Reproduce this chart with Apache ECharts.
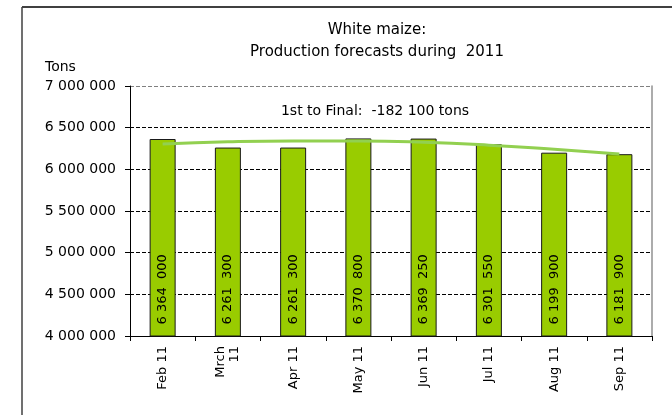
<!DOCTYPE html>
<html>
<head>
<meta charset="utf-8">
<script src="https://cdn.jsdelivr.net/npm/echarts@6/dist/echarts.min.js"></script>
<style>
  html, body { margin: 0; padding: 0; background: #fff; }
  #chart { width: 672px; height: 415px; }
</style>
</head>
<body>
<div id="chart"></div>
<script>
// data
var months = ['Feb 11', 'Mrch\n11', 'Apr 11', 'May 11', 'Jun 11', 'Jul 11', 'Aug 11', 'Sep 11']
var forecasts = [6364000, 6261300, 6261300, 6370800, 6369250, 6301550, 6199900, 6181900]
var trend = [6305000, 6330000, 6340000, 6340000, 6325000, 6290000, 6240000, 6185000]
var yTicks = [4000000, 4500000, 5000000, 5500000, 6000000, 6500000, 7000000]
var changeNote = '1st to Final:  -182 100 tons'

var font = 'Tahoma, "DejaVu Sans", sans-serif'

function spaced(v) {
  return String(v).replace(/\B(?=(\d{3})+(?!\d))/g, ' ')
}

var chart = echarts.init(document.getElementById('chart'), null, { renderer: 'canvas' })

chart.setOption({
  backgroundColor: '#fff',
  animation: false,
  textStyle: { fontFamily: font },
  title: [{
    text: 'White maize:\nProduction forecasts during  2011',
    left: 372,
    top: 14,
    textAlign: 'center',
    textStyle: { fontSize: 15, fontWeight: 'normal', color: '#000', lineHeight: 22, fontFamily: font }
  }, {
    text: changeNote,
    left: 370,
    top: 99,
    textAlign: 'center',
    textStyle: { fontSize: 14, fontWeight: 'normal', color: '#000', fontFamily: font }
  }],
  graphic: [
    { type: 'line', shape: { x1: 22, y1: 7, x2: 672, y2: 7 }, style: { stroke: '#404040', lineWidth: 2 } },
    { type: 'line', shape: { x1: 22, y1: 7, x2: 22, y2: 415 }, style: { stroke: '#404040', lineWidth: 1.5 } }
  ],
  grid: {
    left: 130,
    right: 20,
    top: 86,
    bottom: 79
  },
  xAxis: {
    type: 'category',
    data: months,
    axisLine: { lineStyle: { color: '#000', width: 1 } },
    axisTick: { show: true, length: 5, lineStyle: { color: '#000' } },
    axisLabel: {
      rotate: 90,
      interval: 0,
      margin: 10,
      color: '#000',
      fontSize: 13,
      lineHeight: 14,
      fontFamily: font
    }
  },
  yAxis: [{
    type: 'value',
    min: yTicks[0],
    max: yTicks[yTicks.length - 1],
    interval: 500000,
    name: 'Tons',
    nameLocation: 'end',
    nameGap: 12,
    nameTextStyle: { color: '#000', fontSize: 14, align: 'left', padding: [0, 0, 0, -85], fontFamily: font },
    axisLine: { show: true, lineStyle: { color: '#000' } },
    axisTick: { show: true, length: 5, lineStyle: { color: '#000' } },
    axisLabel: {
      color: '#000',
      fontSize: 14,
      margin: 14,
      fontFamily: font,
      formatter: function (v) { return spaced(v) }
    },
    splitLine: {
      lineStyle: {
        type: [4, 2],
        color: ['#000', '#000', '#000', '#000', '#000', '#000', '#808080'],
        width: 1
      }
    }
  }, {
    type: 'value',
    position: 'right',
    min: yTicks[0],
    max: yTicks[yTicks.length - 1],
    axisLine: { show: true, lineStyle: { color: '#909090', width: 1.5 } },
    axisTick: { show: false },
    axisLabel: { show: false },
    splitLine: { show: false }
  }],
  series: [{
    type: 'bar',
    data: forecasts,
    barWidth: 26,
    itemStyle: {
      color: '#99CC00',
      borderColor: '#1a1a1a',
      borderWidth: 1
    },
    label: {
      show: true,
      position: 'insideBottom',
      rotate: 90,
      align: 'left',
      verticalAlign: 'middle',
      distance: 12,
      color: '#000',
      fontSize: 13,
      fontFamily: font,
      formatter: function (p) { return spaced(p.value).replace(/ (\d{3})$/, '  $1') }
    }
  }, {
    type: 'line',
    data: trend,
    smooth: true,
    symbol: 'none',
    lineStyle: { color: '#92D050', width: 3 },
    z: 5
  }]
})
</script>
</body>
</html>
